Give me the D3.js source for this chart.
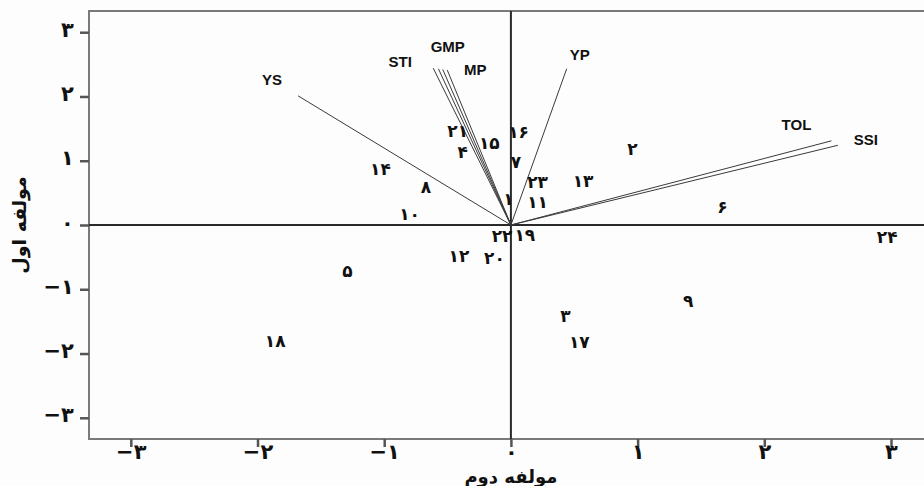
<!DOCTYPE html>
<html>
<head>
<meta charset="utf-8">
<script src="https://cdn.jsdelivr.net/npm/d3@7/dist/d3.min.js"></script>
<style>
  html, body { margin: 0; padding: 0; background: #fdfdfd; }
  svg { display: block; }
</style>
</head>
<body>
<svg id="chart" width="924" height="486"></svg>
<script>
// Genotype scores on the first two principal components
const genotypes = ["۱","۲","۳","۴","۵","۶","۷","۸","۹","۱۰","۱۱","۱۲","۱۳","۱۴","۱۵","۱۶","۱۷","۱۸","۱۹","۲۰","۲۱","۲۲","۲۳","۲۴"];
const pc2Scores = [-0.02, 0.96, 0.43, -0.38, -1.29, 1.67, 0.04, -0.67, 1.40, -0.80, 0.21, -0.41, 0.57, -1.03, -0.17, 0.06, 0.54, -1.86, 0.11, -0.13, -0.42, -0.07, 0.21, 2.97];
const pc1Scores = [0.39, 1.17, -1.43, 1.12, -0.73, 0.26, 0.96, 0.57, -1.20, 0.16, 0.34, -0.50, 0.67, 0.86, 1.26, 1.43, -1.83, -1.82, -0.17, -0.53, 1.45, -0.19, 0.66, -0.20];

// Index loadings (vectors from the origin)
const indices = ["YS", "STI", "", "GMP", "MP", "YP", "TOL", "SSI"];
const vecPc2 = [-1.68, -0.613, -0.572, -0.538, -0.502, 0.44, 2.53, 2.58];
const vecPc1 = [2.01, 2.44, 2.43, 2.42, 2.41, 2.43, 1.31, 1.24];
// label offsets for each vector name, in px
const labelDx = [-26, -33, 0, 5, 28, 13, -35, 28];
const labelDy = [-11, -1, 0, -17, 5, -9, -11, 0];

const xTicks = [-3, -2, -1, 0, 1, 2, 3];
const yTicks = [-3, -2, -1, 0, 1, 2, 3];
const tickText = ["−۳", "−۲", "−۱", "۰", "۱", "۲", "۳"];

const xTitle = "مولفه دوم";
const yTitle = "مولفه اول";

const svg = d3.select("#chart");
const plotLeft = 89, plotTop = 11, plotBottom = 439;
const x = d3.scaleLinear().domain([-3.33, 3.33]).range([plotLeft, plotLeft + 6.66 * 126.7]);
const y = d3.scaleLinear().domain([-3.33, 3.33]).range([plotBottom, plotTop]);

const arabicFont = "'DejaVu Sans', 'Noto Sans', sans-serif";
const latinFont = "'Liberation Sans', Arial, sans-serif";

// plot frame
svg.append("rect")
  .attr("x", x(-3.33)).attr("y", y(3.33))
  .attr("width", x(3.33) - x(-3.33)).attr("height", y(-3.33) - y(3.33))
  .attr("fill", "#fdfdfd").attr("stroke", "#7a7a7a").attr("stroke-width", 2);

// axes with ticks
const xAxis = d3.axisBottom(x).tickValues(xTicks).tickSize(8).tickFormat((d, i) => tickText[i]);
const yAxis = d3.axisLeft(y).tickValues(yTicks).tickSize(9).tickFormat((d, i) => tickText[i]);

const gx = svg.append("g").attr("transform", `translate(0,${plotBottom})`).call(xAxis);
const gy = svg.append("g").attr("transform", `translate(${plotLeft},0)`).call(yAxis);
[gx, gy].forEach(g => {
  g.select(".domain").remove();
  g.selectAll(".tick line").attr("stroke", "#555").attr("stroke-width", 2.5);
  g.selectAll(".tick text")
    .attr("fill", "#111").attr("font-family", arabicFont)
    .attr("font-weight", "bold").attr("font-size", 21);
});
gx.selectAll(".tick text").attr("y", 5).attr("dy", "0.72em");
gy.selectAll(".tick text").attr("dx", "-0.15em").attr("dy", "0.2em");

// zero reference lines
svg.append("line")
  .attr("x1", x(-3.33)).attr("x2", x(3.33)).attr("y1", y(0)).attr("y2", y(0))
  .attr("stroke", "#2a2a2a").attr("stroke-width", 2);
svg.append("line")
  .attr("x1", x(0)).attr("x2", x(0)).attr("y1", y(3.33)).attr("y2", y(-3.33))
  .attr("stroke", "#2a2a2a").attr("stroke-width", 2);

// index vectors
const vecs = indices.map((name, i) => ({ name, vx: vecPc2[i], vy: vecPc1[i], dx: labelDx[i], dy: labelDy[i] }));
svg.append("g").selectAll("line").data(vecs).join("line")
  .attr("x1", x(0)).attr("y1", y(0))
  .attr("x2", d => x(d.vx)).attr("y2", d => y(d.vy))
  .attr("stroke", "#3a3a3a").attr("stroke-width", 1);
svg.append("g").selectAll("text").data(vecs.filter(d => d.name)).join("text")
  .attr("x", d => x(d.vx) + d.dx).attr("y", d => y(d.vy) + d.dy)
  .attr("text-anchor", "middle")
  .attr("font-family", latinFont).attr("font-weight", "bold").attr("font-size", 15)
  .attr("fill", "#111")
  .text(d => d.name);

// genotype labels
const pts = genotypes.map((g, i) => ({ g, px: pc2Scores[i], py: pc1Scores[i] }));
svg.append("g").selectAll("text").data(pts).join("text")
  .attr("x", d => x(d.px)).attr("y", d => y(d.py))
  .attr("dy", "0.3em")
  .attr("text-anchor", "middle")
  .attr("font-family", arabicFont).attr("font-weight", "bold").attr("font-size", 17)
  .attr("fill", "#111")
  .text(d => d.g);

// axis titles
svg.append("text")
  .attr("x", x(0)).attr("y", 483)
  .attr("text-anchor", "middle")
  .attr("font-family", arabicFont).attr("font-weight", "bold").attr("font-size", 18)
  .attr("fill", "#111")
  .text(xTitle);
svg.append("text")
  .attr("transform", `translate(26,${y(0)}) rotate(-90)`)
  .attr("text-anchor", "middle")
  .attr("font-family", arabicFont).attr("font-weight", "bold").attr("font-size", 19)
  .attr("fill", "#111")
  .text(yTitle);
</script>
</body>
</html>
